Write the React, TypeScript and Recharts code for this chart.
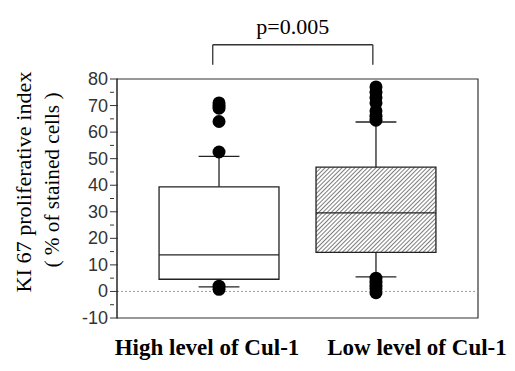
import React from "react";
import {
  ComposedChart, XAxis, YAxis, Scatter, ReferenceArea, ReferenceLine,
} from "recharts";

const groups = ["High level of Cul-1", "Low level of Cul-1"];
const q1 = [4.6, 14.7];
const medians = [13.8, 29.6];
const q3 = [39.4, 46.8];
const whiskerLow = [1.7, 5.5];
const whiskerHigh = [50.9, 63.8];
const outliers = [
  [0.8, 2, 52.5, 64, 69, 70, 71],
  [-0.5, 1, 2, 3.5, 5, 64.5, 66, 68, 71, 73, 75, 77],
];
const yTicks = [-10, -5, 0, 5, 10, 15, 20, 25, 30, 35, 40, 45, 50, 55, 60, 65, 70, 75, 80];
const pValue = "p=0.005";

const points = outliers.flatMap((arr, i) => arr.map((v) => ({ x: i, y: v })));

const serif = "Liberation Serif, Times New Roman, serif";

const YTick = ({ x, y, payload }: any) => {
  const major = payload.value % 10 === 0;
  return (
    <g>
      <line x1={x + 1} x2={x + (major ? 9 : 5)} y1={y} y2={y} stroke="#333" strokeWidth={1} />
      {major && (
        <text x={x - 1} y={y + 6} textAnchor="end" fontSize={18} fill="#333"
          fontFamily="Liberation Sans, Arial, sans-serif">
          {payload.value}
        </text>
      )}
    </g>
  );
};

const labelShift = [-12, 41];
const XTick = ({ x, y, payload }: any) => (
  <text x={x + labelShift[payload.value]} y={y + 29} textAnchor="middle" fontSize={23}
    fontWeight="bold" fill="#000" fontFamily={serif}>
    {groups[payload.value]}
  </text>
);

const YLabel = () => (
  <g>
    <text x={31} y={182} transform="rotate(-90 31 182)" textAnchor="middle"
      fontSize={22} fontFamily={serif} fill="#000" textLength={221} lengthAdjust="spacingAndGlyphs">
      KI 67 proliferative  index
    </text>
    <text x={59} y={180} transform="rotate(-90 59 180)" textAnchor="middle"
      fontSize={22} fontFamily={serif} fill="#000" textLength={175} lengthAdjust="spacingAndGlyphs">
      ( % of stained cells )
    </text>
  </g>
);

export default function App() {
  const half = 0.382;
  const cap = 0.13;
  return (
    <div style={{ position: "absolute", left: 0, top: 0, width: 515, height: 371, background: "#fff" }}>
      <svg width={0} height={0} style={{ position: "absolute" }}>
        <defs>
          <pattern id="hatch" width={3} height={3} patternUnits="userSpaceOnUse" patternTransform="rotate(45)">
            <rect width={3} height={3} fill="#fff" />
            <line x1={0} y1={0} x2={0} y2={3} stroke="#111" strokeWidth={1.1} />
          </pattern>
        </defs>
      </svg>
      <ComposedChart width={515} height={371} margin={{ top: 79, right: 37, bottom: 0, left: 0 }}>
        <XAxis type="number" dataKey="x" domain={[-0.65, 1.65]} ticks={[0, 1]} allowDataOverflow
          axisLine={false} tickLine={false} tick={<XTick />} height={53} interval={0} />
        <YAxis type="number" dataKey="y" domain={[-10, 80]} ticks={yTicks} allowDataOverflow interval={0}
          width={117} axisLine={{ stroke: "#333" }} tickLine={false} tick={<YTick />}
          label={<YLabel />} />
        <ReferenceLine y={0} stroke="#999" strokeDasharray="2 2" strokeWidth={1} />
        {groups.map((g, i) => (
          <ReferenceArea key={"box" + g} x1={i - half} x2={i + half} y1={q1[i]} y2={q3[i]}
            fill={i === 1 ? "url(#hatch)" : "#fff"} fillOpacity={1} stroke="#222" strokeWidth={1.3} />
        ))}
        {groups.map((g, i) => (
          <ReferenceLine key={"med" + g} segment={[{ x: i - half, y: medians[i] }, { x: i + half, y: medians[i] }]}
            stroke="#222" strokeWidth={1.3} />
        ))}
        {groups.map((g, i) => (
          <ReferenceLine key={"wh" + g} segment={[{ x: i, y: q3[i] }, { x: i, y: whiskerHigh[i] }]} stroke="#222" strokeWidth={1.3} />
        ))}
        {groups.map((g, i) => (
          <ReferenceLine key={"wl" + g} segment={[{ x: i, y: q1[i] }, { x: i, y: whiskerLow[i] }]} stroke="#222" strokeWidth={1.3} />
        ))}
        {groups.map((g, i) => (
          <ReferenceLine key={"ch" + g} segment={[{ x: i - cap, y: whiskerHigh[i] }, { x: i + cap, y: whiskerHigh[i] }]} stroke="#222" strokeWidth={1.3} />
        ))}
        {groups.map((g, i) => (
          <ReferenceLine key={"cl" + g} segment={[{ x: i - cap, y: whiskerLow[i] }, { x: i + cap, y: whiskerLow[i] }]} stroke="#222" strokeWidth={1.3} />
        ))}
        <ReferenceArea x1={-0.65} x2={1.65} y1={-10} y2={80} fill="none" stroke="#333" strokeWidth={1.2} />
        <Scatter data={points} fill="#000" isAnimationActive={false}
          shape={(p: any) => <circle cx={p.cx} cy={p.cy} r={6.5} fill="#000" />} />
        <ReferenceLine ifOverflow="visible" segment={[{ x: -0.04, y: 92.9 }, { x: 0.98, y: 92.9 }]} stroke="#333" strokeWidth={1.3}
          label={{ value: pValue, position: "top", offset: 11, fontSize: 22, fill: "#000", fontFamily: serif }} />
        <ReferenceLine ifOverflow="visible" segment={[{ x: -0.04, y: 92.9 }, { x: -0.04, y: 85.4 }]} stroke="#333" strokeWidth={1.3} />
        <ReferenceLine ifOverflow="visible" segment={[{ x: 0.98, y: 92.9 }, { x: 0.98, y: 85.4 }]} stroke="#333" strokeWidth={1.3} />
      </ComposedChart>
    </div>
  );
}
